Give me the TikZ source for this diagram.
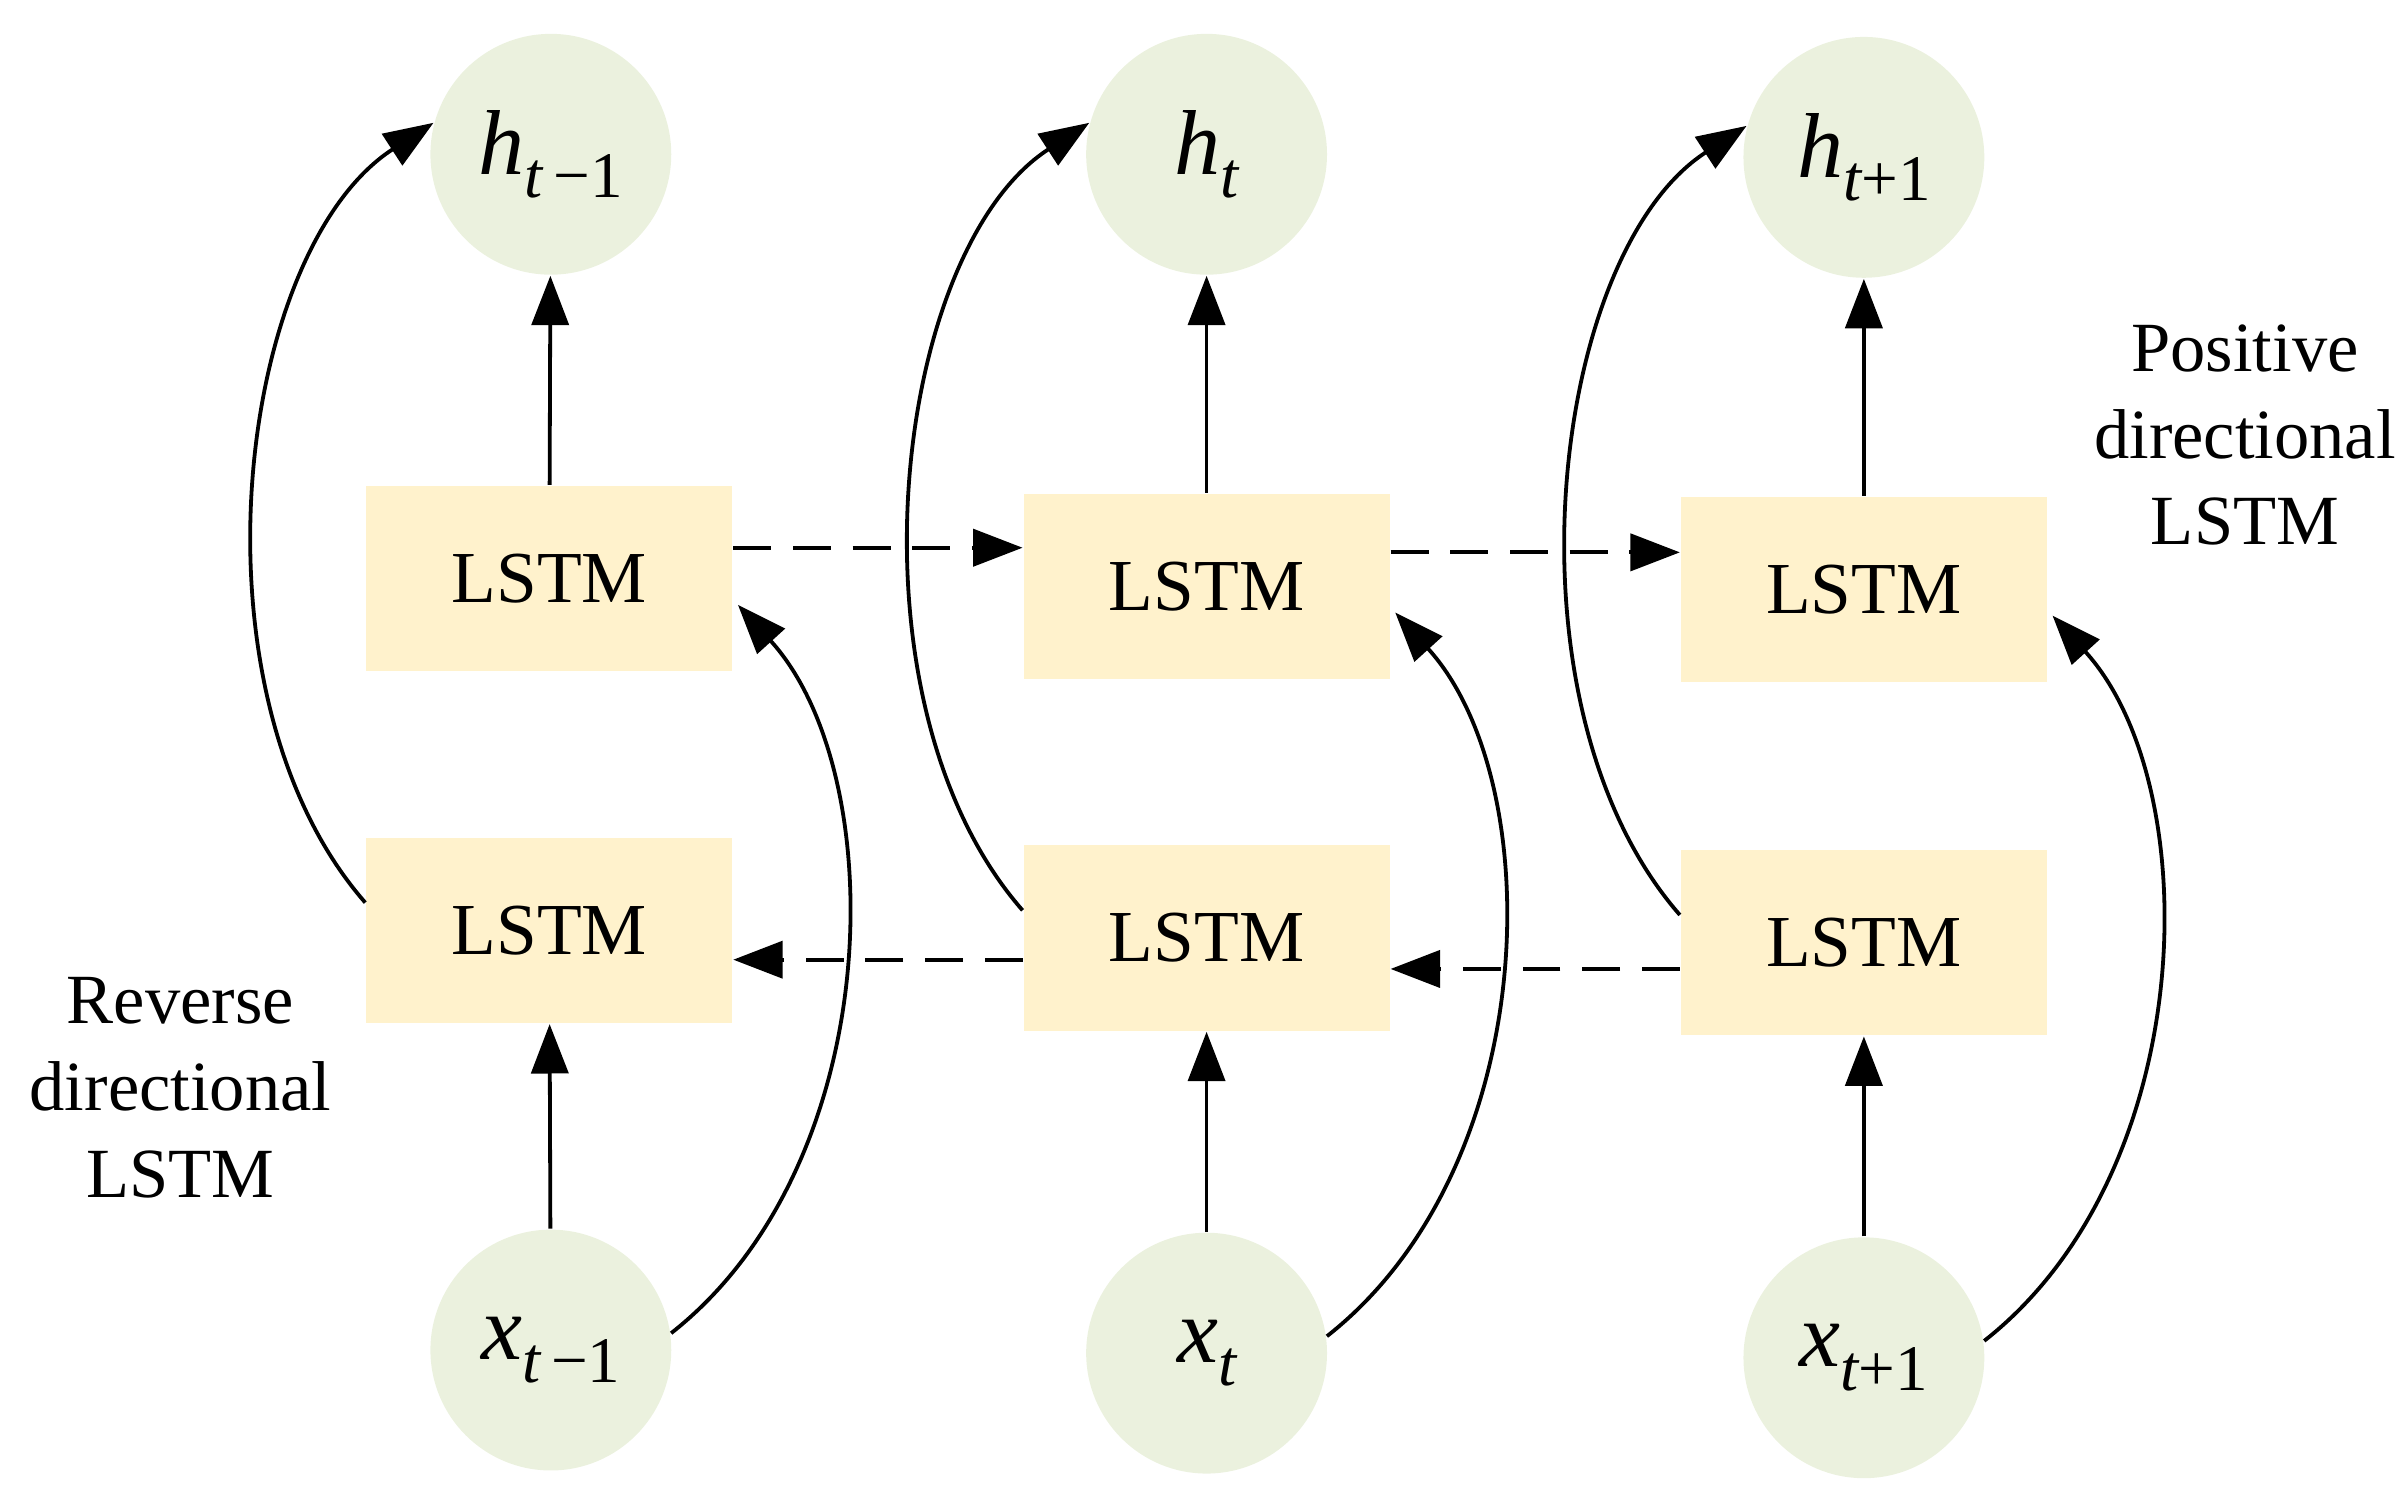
\documentclass[tikz,border=0pt]{standalone}
\usepackage{fontspec}
\setmainfont{Liberation Serif}
\usetikzlibrary{arrows.meta,calc}
\definecolor{cg}{HTML}{EBF1DE}
\definecolor{by}{HTML}{FFF2CC}
\newcommand{\sym}[2]{{\itshape #1}\raisebox{-0.55ex}{\fontsize{12}{12}\selectfont\itshape #2}}
\begin{document}
\begin{tikzpicture}[x=0.01cm,y=-0.01cm,
  circ/.style={circle,fill=cg,minimum size=1.56cm,inner sep=0pt,font=\fontsize{17}{17}\selectfont},
  box/.style={fill=by,minimum width=2.37cm,minimum height=1.2cm,inner sep=0pt,font=\fontsize{13.5}{13.5}\selectfont},
  arr/.style={-{Triangle[length=0.32cm,width=0.24cm]},line width=0.7pt},
  dsh/.style={dash pattern=on 7pt off 4pt},
  lbl/.style={align=center,font=\fontsize{13}{16}\selectfont}]
\useasboundingbox (0,0) rectangle (1560,968);
\node[circ] (h1) at (357,100) {\sym{h}{t\,\upshape−1}};
\node[circ] (h2) at (782,100) {\sym{h}{t}};
\node[circ] (h3) at (1208,102) {\sym{h}{t\upshape+1}};
\node[circ] (x1) at (357,875) {\sym{x}{t\,\upshape−1}};
\node[circ] (x2) at (782,877) {\sym{x}{t}};
\node[circ] (x3) at (1208,880) {\sym{x}{t\upshape+1}};
\node[box] (a1) at (356,375) {LSTM};
\node[box] (a2) at (782,380) {LSTM};
\node[box] (a3) at (1208,382) {LSTM};
\node[box] (b1) at (356,603) {LSTM};
\node[box] (b2) at (782,608) {LSTM};
\node[box] (b3) at (1208,611) {LSTM};
\foreach \i in {1,2,3}{
  \draw[arr] (a\i) -- (h\i);
  \draw[arr] (x\i) -- (b\i);
  \draw[arr] ($(b\i.west)+(0,-18)$) .. controls +(-118,-135) and +(-128,83) .. (h\i.165);
  \draw[arr] (x\i.8) .. controls +(140,-110) and +(100,110) .. ($(a\i.east)+(3,17)$);
}
\draw[arr,dsh] (a1.east|-0,355) -- (a2.west|-0,355);
\draw[arr,dsh] (a2.east|-0,358) -- (a3.west|-0,358);
\draw[arr,dsh] (b3.west|-0,628) -- (b2.east|-0,628);
\draw[arr,dsh] (b2.west|-0,622) -- (b1.east|-0,622);
\node[lbl] (pl) at (1455,282) {Positive\\directional\\LSTM};
\node[lbl] (rl) at (117,705) {Reverse\\directional\\LSTM};
\end{tikzpicture}
\end{document}
